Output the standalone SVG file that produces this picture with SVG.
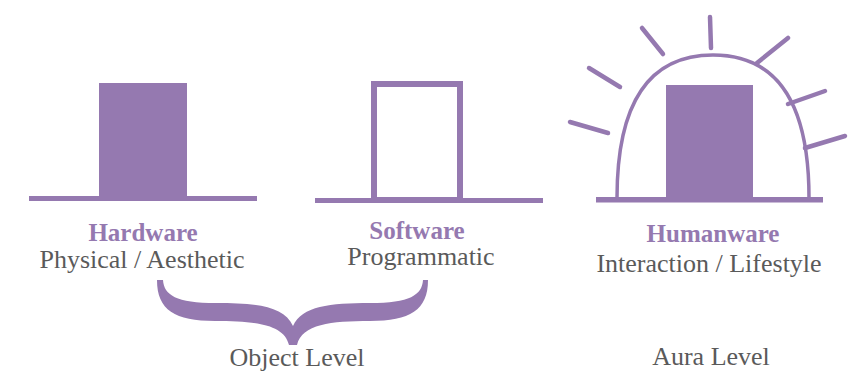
<svg xmlns="http://www.w3.org/2000/svg" width="855" height="372" viewBox="0 0 855 372">
<style>
.p{fill:#9579b0}
.ln{stroke:#9579b0;fill:none}
text{font-family:'Liberation Serif','Times New Roman','DejaVu Serif',serif;text-anchor:middle}
.h{font-size:25px;font-weight:bold;fill:#9579b0}
.s{font-size:26px;fill:#5a5a5a}
.ray{stroke:#9579b0;stroke-width:4.5;stroke-linecap:round;fill:none}
</style>
<rect width="855" height="372" fill="#ffffff"/>
<g id="hardware">
<rect class="p" x="29" y="196" width="228" height="5"/>
<rect class="p" x="99" y="83" width="88" height="116"/>
<text class="h" font-family="Liberation Serif, serif" x="143" y="241">Hardware</text>
<text class="s" font-family="Liberation Serif, serif" x="142" y="268">Physical / Aesthetic</text>
</g>
<g id="software">
<rect class="p" x="315" y="198" width="228" height="5"/>
<rect class="ln" x="374" y="84" width="86" height="116" stroke-width="6"/>
<text class="h" font-family="Liberation Serif, serif" x="417" y="239">Software</text>
<text class="s" font-family="Liberation Serif, serif" x="421" y="265">Programmatic</text>
</g>
<g id="humanware">
<rect class="p" x="596" y="197" width="227" height="5.5"/>
<path class="ln" stroke-width="3.5" d="M617 198 C617 100 651 55 713 55 C775 55 809 100 809 198"/>
<rect class="p" x="666" y="85" width="87" height="114"/>
<line class="ray" x1="570" y1="122" x2="608" y2="133"/>
<line class="ray" x1="589" y1="68" x2="620" y2="87"/>
<line class="ray" x1="642" y1="28" x2="663" y2="54"/>
<line class="ray" x1="710" y1="17" x2="711" y2="48"/>
<line class="ray" x1="788" y1="38" x2="757" y2="63"/>
<line class="ray" x1="825" y1="91" x2="788" y2="104"/>
<line class="ray" x1="845" y1="136" x2="805" y2="148"/>
<text class="h" font-family="Liberation Serif, serif" x="713" y="242">Humanware</text>
<text class="s" font-family="Liberation Serif, serif" x="709" y="272">Interaction / Lifestyle</text>
</g>
<g id="connectors">
<path class="p" d="M157 280 C157 310 175 321 215 321 C255 321 284 324 289 345 L297 345 C302 324 331 321 370 321 C410 321 428 310 428 280 L423 280 C422 295 410 303 370 303 C330 303 302 306 293 326 C284 306 256 303 216 303 C176 303 164 295 163 280 Z"/>
</g>
<g id="object-level">
<text class="s" font-family="Liberation Serif, serif" x="297" y="366">Object Level</text>
</g>
<g id="aura-level">
<text class="s" font-family="Liberation Serif, serif" x="711" y="365">Aura Level</text>
</g>
</svg>
